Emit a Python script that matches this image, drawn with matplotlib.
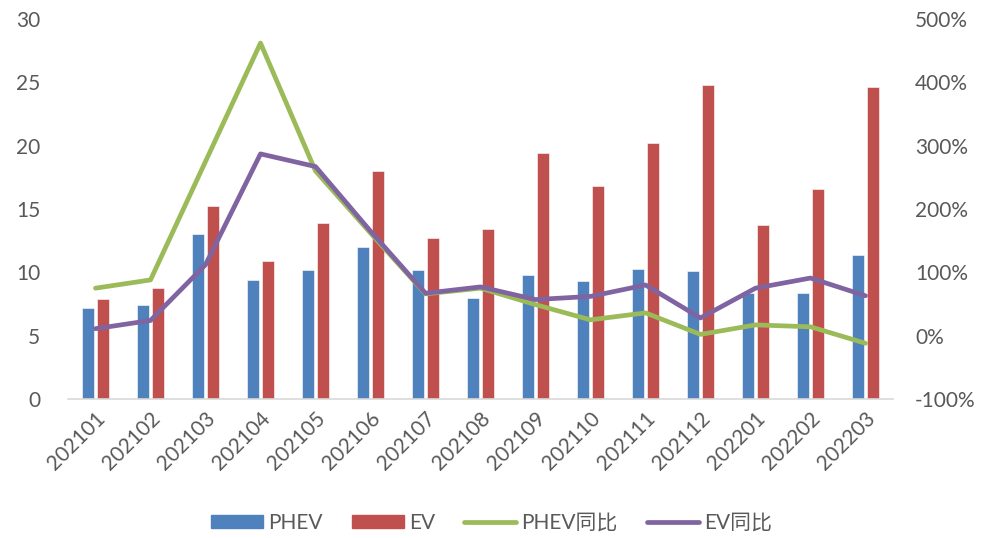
import matplotlib
matplotlib.use("Agg")
import matplotlib.pyplot as plt
import numpy as np
from matplotlib.lines import Line2D
from matplotlib.patches import Patch

plt.rcParams['font.family'] = ['Lato', 'Noto Sans CJK SC', 'DejaVu Sans']

months = ["202101", "202102", "202103", "202104", "202105", "202106", "202107",
          "202108", "202109", "202110", "202111", "202112", "202201", "202202", "202203"]
phev = [7.2, 7.4, 13.0, 9.4, 10.2, 12.0, 10.2, 8.0, 9.8, 9.3, 10.3, 10.1, 8.4, 8.4, 11.4]
ev = [7.9, 8.8, 15.2, 10.9, 13.9, 18.0, 12.7, 13.4, 19.4, 16.8, 20.2, 24.8, 13.7, 16.6, 24.6]
phev_yoy = [75, 88, 275, 462, 260, 162, 66, 75, 49, 25, 36, 2, 17, 14, -12]
ev_yoy = [11, 24, 112, 287, 267, 165, 67, 77, 57, 62, 80, 28, 75, 91, 63]

c_blue = "#4F81BD"
c_red = "#C0504D"
c_green = "#9BBB59"
c_purple = "#8064A2"
tcol = "#595959"
fs = 15

fig = plt.figure(figsize=(9.83, 5.38), dpi=100)
ax = fig.add_axes([68/983, 1-399/538, (893-68)/983, (399-19)/538])
ax2 = ax.twinx()

x = np.arange(len(months))
w = 0.225
off = 0.142
ax.bar(x - off, phev, w, color=c_blue, edgecolor="white", linewidth=0.4, zorder=2)
ax.bar(x + off, ev, w, color=c_red, edgecolor="white", linewidth=0.4, zorder=2)

ax2.plot(x, phev_yoy, color=c_green, lw=3.4, solid_joinstyle="round", solid_capstyle="round", zorder=3)
ax2.plot(x, ev_yoy, color=c_purple, lw=3.4, solid_joinstyle="round", solid_capstyle="round", zorder=4)

ax.set_xlim(-0.5, len(months) - 0.5)
ax.set_ylim(0, 30)
ax.set_yticks(range(0, 31, 5))
ax2.set_ylim(-100, 500)
ax2.set_yticks(range(-100, 501, 100))
ax2.set_yticklabels([f"{v}%" for v in range(-100, 501, 100)])

ax.set_xticks(x)
ax.set_xticklabels(months, rotation=45, ha="right", va="top", rotation_mode="anchor")

for a in (ax, ax2):
    for s in a.spines.values():
        s.set_visible(False)
    a.tick_params(length=0, colors=tcol, labelsize=fs)
ax.spines["bottom"].set_visible(True)
ax.spines["bottom"].set_color("#D9D9D9")
ax.spines["bottom"].set_linewidth(1.2)
ax.tick_params(axis="y", pad=20)
ax2.tick_params(axis="y", pad=16)
ax.tick_params(axis="x", pad=7)

handles = [Patch(color=c_blue), Patch(color=c_red),
           Line2D([0], [0], color=c_green, lw=3.4, solid_capstyle="round"),
           Line2D([0], [0], color=c_purple, lw=3.4, solid_capstyle="round")]
labels = ["PHEV", "EV", "PHEV同比", "EV同比"]
fig.legend(handles, labels, loc="center", bbox_to_anchor=(0.5, 1-523/538), ncol=4,
           frameon=False, fontsize=fs, labelcolor=tcol, handlelength=2.5,
           handleheight=0.6, handletextpad=0.25, columnspacing=1.4)

fig.savefig("out.png", dpi=100)
